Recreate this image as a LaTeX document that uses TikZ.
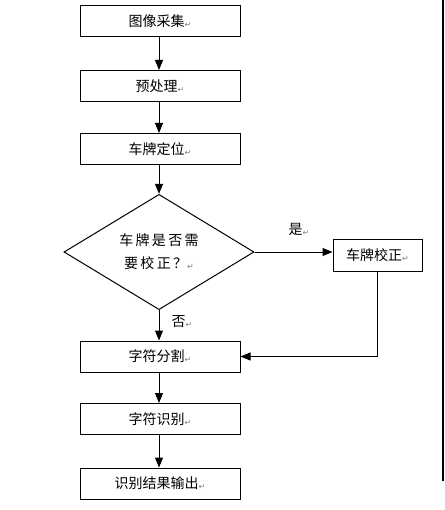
\documentclass[tikz,border=0pt]{standalone}
\usepackage{fontspec}
\newfontfamily\cjk{Noto Sans CJK SC}
\newfontfamily\sym{DejaVu Sans}
\usetikzlibrary{arrows.meta,shapes.geometric}
\newcommand{\rmark}{{\sym\fontsize{8pt}{8pt}\selectfont\color{gray}\raisebox{-1pt}{↵}}}
\tikzset{
  box/.style={draw, line width=1pt, rectangle, minimum width=160pt, minimum height=31pt, inner sep=0pt, font=\cjk\fontsize{14pt}{17pt}\selectfont},
  dec/.style={draw, line width=1pt, diamond, minimum width=190pt, minimum height=110pt, inner sep=0pt, align=center, font=\cjk\fontsize{14pt}{23pt}\selectfont},
  lbl/.style={inner sep=0pt, font=\cjk\fontsize{14pt}{17pt}\selectfont},
  flow/.style={line width=1pt, -{Triangle[length=10pt,width=8pt]}},
}
\begin{document}
\begin{tikzpicture}[x=1pt,y=-1pt]
\useasboundingbox (0,0) rectangle (444,510);
\fill[white] (0,0) rectangle (444,510);
\node[box] (a) at (160,21.5) {图像采集\rmark};
\node[box] (b) at (160,86) {预处理\rmark};
\node[box] (c) at (160,149) {车牌定位\rmark};
\node[dec] (d) at (159,252) {车\,牌\,是\,否\,需\\要\,校\,正\,？\rmark};
\node[box, minimum width=89pt, minimum height=32pt] (e) at (377.5,255) {车牌校正\rmark};
\node[box] (f) at (160,356.5) {字符分割\rmark};
\node[box] (g) at (160,419) {字符识别\rmark};
\node[box] (h) at (160,483.5) {识别结果输出\rmark};
\node[lbl] (yes) at (299,229) {是\rmark};
\node[lbl] (no) at (182,322) {否\rmark};
\coordinate (bt) at (443,0);
\coordinate (bb) at (443,481);
\draw[line width=1.2pt] (bt) -- (bb);
\draw[flow] (a.south -| 159,0) -- (b.north -| 159,0);
\draw[flow] (b.south -| 159,0) -- (c.north -| 159,0);
\draw[flow] (c.south -| 159,0) -- (d.north);
\draw[flow] (d.east) -- (d.east -| e.west);
\draw[flow] (d.south) -- (f.north -| d.south);
\draw[flow] (e.south) |- (f.east);
\draw[flow] (f.south -| 159,0) -- (g.north -| 159,0);
\draw[flow] (g.south -| 159,0) -- (h.north -| 159,0);
\end{tikzpicture}
\end{document}
